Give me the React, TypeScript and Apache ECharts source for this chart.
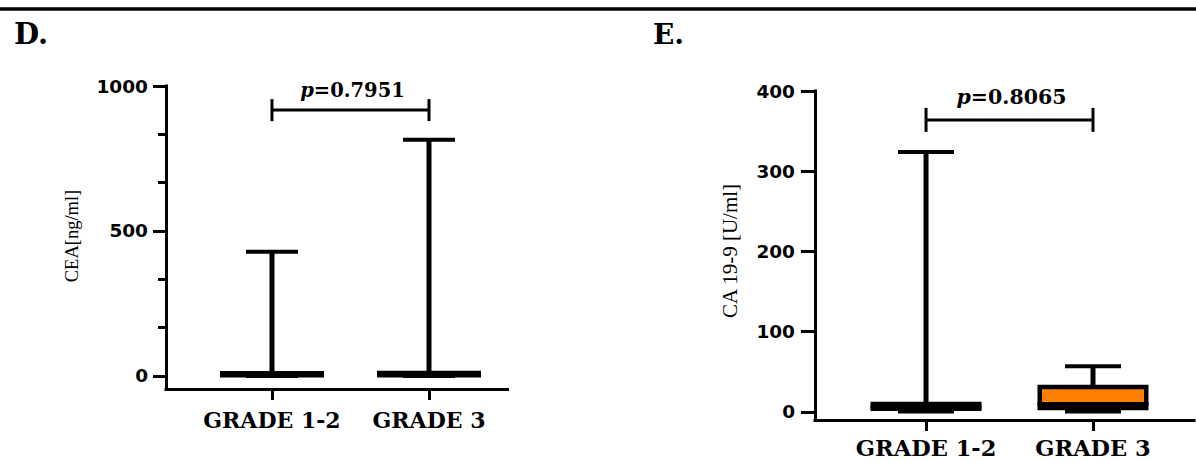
import React, { useEffect, useRef } from "react";
import * as echarts from "echarts";

// ---------- data ----------
const categories = ["GRADE 1-2", "GRADE 3"];
// box values: [min, Q1, median, Q3, max]
const ceaGrade12 = [0, 2, 4, 9, 428];
const ceaGrade3 = [0, 2, 5, 10, 815];
const ca199Grade12 = [0.5, 4, 6, 10, 324];
const ca199Grade3 = [0.5, 5, 10, 31, 57];
const ceaTicks = [0, 500, 1000];
const ceaMinorTicks = [166.67, 333.33, 666.67, 833.33];
const ca199Ticks = [0, 100, 200, 300, 400];
const ceaPValue = "0.7951";
const ca199PValue = "0.8065";
const ceaBracketLevel = 917;
const ca199BracketLevel = 364;
const ceaTitle = "CEA[ng/ml]";
const ca199Title = "CA 19-9 [U/ml]";

const BLACK = "#000000";
const ORANGE = "#FF8000";

function boxRenderer(boxW: number, capW: number, fills: string[]) {
  return (params: any, api: any) => {
    const x = api.value(0);
    const idx = params.dataIndex;
    const cx = api.coord([x, api.value(1)])[0];
    const yMin = api.coord([x, api.value(1)])[1];
    const yQ1 = api.coord([x, api.value(2)])[1];
    const yMed = api.coord([x, api.value(3)])[1];
    const yQ3 = api.coord([x, api.value(4)])[1];
    const yMax = api.coord([x, api.value(5)])[1];
    const lw = 4.5;
    return {
      type: "group",
      children: [
        { type: "line", shape: { x1: cx, y1: yMax, x2: cx, y2: yQ3 }, style: { stroke: BLACK, lineWidth: 5 } },
        { type: "line", shape: { x1: cx, y1: yQ1, x2: cx, y2: yMin }, style: { stroke: BLACK, lineWidth: 5 } },
        { type: "line", shape: { x1: cx - capW / 2, y1: yMax, x2: cx + capW / 2, y2: yMax }, style: { stroke: BLACK, lineWidth: 4 } },
        {
          type: "rect",
          shape: { x: cx - boxW / 2 + lw / 2, y: yQ3, width: boxW - lw, height: yQ1 - yQ3 },
          style: { fill: fills[idx], stroke: BLACK, lineWidth: lw },
        },
        { type: "line", shape: { x1: cx - boxW / 2, y1: yMed, x2: cx + boxW / 2, y2: yMed }, style: { stroke: BLACK, lineWidth: 4 } },
        { type: "line", shape: { x1: cx - capW / 2, y1: yMin, x2: cx + capW / 2, y2: yMin }, style: { stroke: BLACK, lineWidth: 4 } },
      ],
    };
  };
}

function bracketRenderer(pText: string, fontSize: number, tickHalf: number, textGap: number) {
  return (params: any, api: any) => {
    const p1 = api.coord([api.value(0), api.value(2)]);
    const p2 = api.coord([api.value(1), api.value(2)]);
    const y = p1[1];
    return {
      type: "group",
      children: [
        { type: "line", shape: { x1: p1[0], y1: y, x2: p2[0], y2: y }, style: { stroke: BLACK, lineWidth: 3 } },
        { type: "line", shape: { x1: p1[0], y1: y - tickHalf, x2: p1[0], y2: y + tickHalf }, style: { stroke: BLACK, lineWidth: 3 } },
        { type: "line", shape: { x1: p2[0], y1: y - tickHalf, x2: p2[0], y2: y + tickHalf }, style: { stroke: BLACK, lineWidth: 3 } },
        {
          type: "text",
          x: (p1[0] + p2[0]) / 2 + 2,
          y: y - textGap,
          style: {
            text: "{i|p}{b|=" + pText + "}",
            textAlign: "center",
            textVerticalAlign: "bottom",
            rich: {
              i: { fontFamily: "DejaVu Serif", fontStyle: "italic", fontWeight: "bold", fontSize, fill: BLACK },
              b: { fontFamily: "DejaVu Serif", fontWeight: "bold", fontSize, fill: BLACK },
            },
          },
        },
      ],
    };
  };
}

function xAxisDef(gridIndex: number, min: number, max: number, fontSize: number, lineHeight: number, margin: number) {
  return {
    type: "value",
    gridIndex,
    min,
    max,
    axisLine: { show: true, onZero: false, lineStyle: { color: BLACK, width: 3, cap: "square" } },
    axisTick: { show: true, customValues: [1, 2], length: 11, lineStyle: { color: BLACK, width: 3 } },
    axisLabel: {
      customValues: [1, 2],
      formatter: (v: number) => categories[Math.round(v) - 1] ?? "",
      fontFamily: "DejaVu Serif",
      fontWeight: "bold",
      fontSize,
      lineHeight,
      color: BLACK,
      margin,
    },
    splitLine: { show: false },
  };
}

const plainNum = (v: number) => String(Math.round(v));

export default function App() {
  const ref = useRef<HTMLDivElement>(null);
  useEffect(() => {
    if (!ref.current) return;
    const chart = echarts.init(ref.current, null, { renderer: "svg" });

    const ceaBoxes = [
      [1, ...ceaGrade12],
      [2, ...ceaGrade3],
    ];
    const caBoxes = [
      [1, ...ca199Grade12],
      [2, ...ca199Grade3],
    ];

    chart.setOption({
      animation: false,
      backgroundColor: "#ffffff",
      grid: [
        { left: 166, top: 86, width: 341.5, height: 303, containLabel: false, outerBoundsMode: "none" },
        { left: 815, top: 91, width: 379, height: 329, containLabel: false, outerBoundsMode: "none" },
      ],
      xAxis: [xAxisDef(0, 0.325, 2.5, 22, 22, 20), xAxisDef(1, 0.335, 2.605, 22.5, 18, 19)],
      yAxis: [
        {
          type: "value",
          gridIndex: 0,
          min: -45,
          max: 1000,
          position: "left",
          axisLine: { show: true, onZero: false, lineStyle: { color: BLACK, width: 3, cap: "square" } },
          axisTick: { show: true, customValues: ceaTicks, length: 13, lineStyle: { color: BLACK, width: 3 } },
          axisLabel: {
            customValues: ceaTicks,
            formatter: plainNum,
            margin: 18,
            fontFamily: "DejaVu Sans",
            fontWeight: "bold",
            fontSize: 18.5,
            color: BLACK,
          },
          splitLine: { show: false },
        },
        {
          type: "value",
          gridIndex: 0,
          min: -45,
          max: 1000,
          position: "left",
          offset: 0,
          axisLine: { show: false, onZero: false },
          axisTick: { show: true, customValues: ceaMinorTicks, length: 8, lineStyle: { color: BLACK, width: 3 } },
          axisLabel: { show: false },
          splitLine: { show: false },
        },
        {
          type: "value",
          gridIndex: 1,
          min: -10,
          max: 400,
          position: "left",
          axisLine: { show: true, onZero: false, lineStyle: { color: BLACK, width: 3, cap: "square" } },
          axisTick: { show: true, customValues: ca199Ticks, length: 14, lineStyle: { color: BLACK, width: 3 } },
          axisLabel: {
            customValues: ca199Ticks,
            formatter: plainNum,
            margin: 20,
            fontFamily: "DejaVu Sans",
            fontWeight: "bold",
            fontSize: 18.5,
            color: BLACK,
          },
          splitLine: { show: false },
        },
      ],
      series: [
        {
          type: "custom",
          xAxisIndex: 0,
          yAxisIndex: 0,
          data: ceaBoxes,
          renderItem: boxRenderer(104, 52, [BLACK, BLACK]),
        },
        {
          type: "custom",
          xAxisIndex: 0,
          yAxisIndex: 0,
          data: [[1, 2, ceaBracketLevel]],
          renderItem: bracketRenderer(ceaPValue, 19.5, 11, 10),
        },
        {
          type: "custom",
          xAxisIndex: 1,
          yAxisIndex: 2,
          data: caBoxes,
          renderItem: boxRenderer(111, 56, [BLACK, ORANGE]),
        },
        {
          type: "custom",
          xAxisIndex: 1,
          yAxisIndex: 2,
          data: [[1, 2, ca199BracketLevel]],
          renderItem: bracketRenderer(ca199PValue, 20.5, 12, 12),
        },
      ],
      graphic: [
        { type: "line", shape: { x1: 0, y1: 9, x2: 1196, y2: 9 }, style: { stroke: BLACK, lineWidth: 3.5 } },
        {
          type: "text",
          x: 14,
          y: 48,
          style: { text: "D.", font: "bold 29px 'DejaVu Serif'", fill: BLACK, textVerticalAlign: "bottom" },
        },
        {
          type: "text",
          x: 653,
          y: 48,
          style: { text: "E.", font: "bold 28px 'DejaVu Serif'", fill: BLACK, textVerticalAlign: "bottom" },
        },
        {
          type: "text",
          x: 72,
          y: 236,
          rotation: Math.PI / 2,
          style: { text: ceaTitle, font: "18.5px 'Liberation Serif'", fill: BLACK, textAlign: "center", textVerticalAlign: "middle" },
        },
        {
          type: "text",
          x: 730,
          y: 251,
          rotation: Math.PI / 2,
          style: { text: ca199Title, font: "21px 'Liberation Serif'", fill: BLACK, textAlign: "center", textVerticalAlign: "middle" },
        },
      ],
    });
    return () => chart.dispose();
  }, []);
  return (
    <div
      ref={ref}
      style={{ position: "fixed", left: 0, top: 0, width: 1196, height: 462, background: "#fff" }}
    />
  );
}
